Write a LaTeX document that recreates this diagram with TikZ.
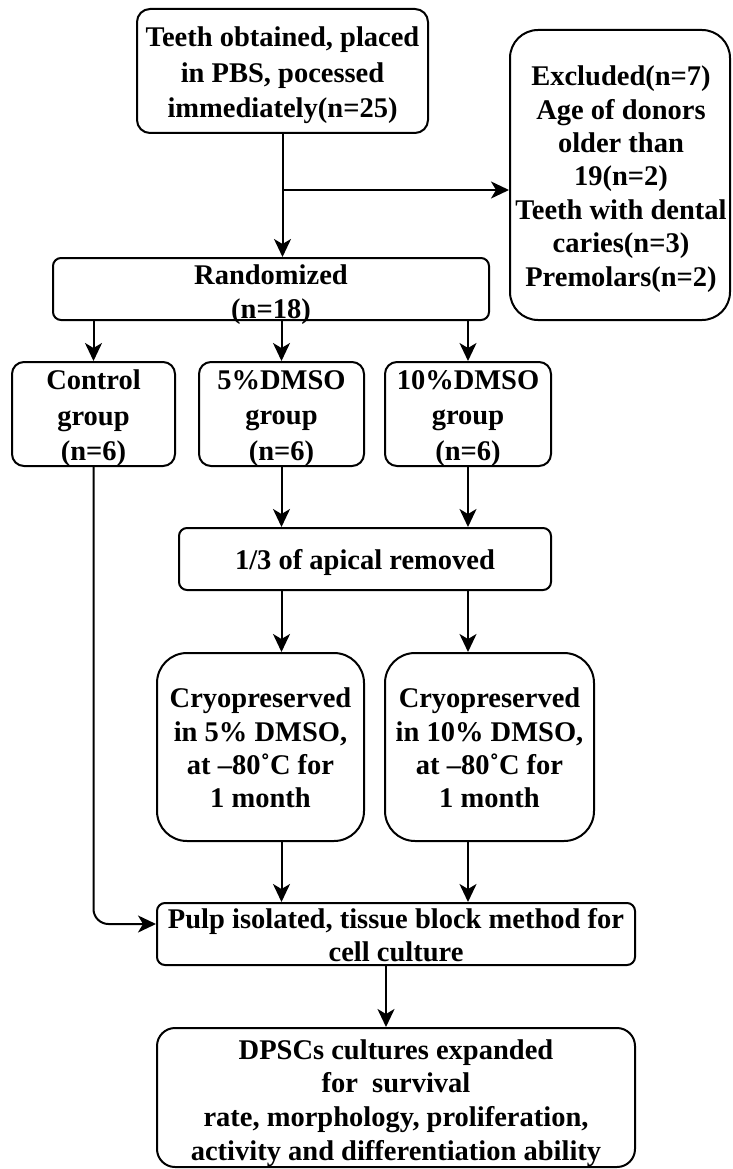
\documentclass[tikz,border=0pt]{standalone}
\usepackage{fontspec}
\setmainfont{Liberation Serif}
\usetikzlibrary{arrows.meta,calc}
\begin{document}
\begin{tikzpicture}[x=1pt,y=-1pt,
  box/.style={draw,line width=2pt,rounded corners=#1,inner sep=0pt},
  box/.default=12pt,
  txt/.style={align=center,inner sep=0pt,
    font=\bfseries\fontsize{28.5}{#1}\selectfont},
  txt/.default=34,
  arr/.style={line width=2pt,-{Stealth[length=18pt,width=17pt,inset=5pt]}}]
\useasboundingbox (0,0) rectangle (732,1169);

% boxes
\node[box=13pt,minimum width=291pt,minimum height=124pt] (top) at (282.5,71) {};
\node[box=28pt,minimum width=220pt,minimum height=290pt] (excl) at (620,175) {};
\node[box=8pt,minimum width=436pt,minimum height=62pt] (rand) at (271,289) {};
\node[box=12pt,minimum width=163pt,minimum height=104pt] (ctrl) at (93.5,414) {};
\node[box=12pt,minimum width=165pt,minimum height=104pt] (g5) at (281.5,414) {};
\node[box=12pt,minimum width=166pt,minimum height=104pt] (g10) at (468,414) {};
\node[box=8pt,minimum width=372pt,minimum height=62pt] (apical) at (365,559) {};
\node[box=30pt,minimum width=207pt,minimum height=188pt] (cryo5) at (260.5,747) {};
\node[box=30pt,minimum width=209pt,minimum height=188pt] (cryo10) at (489.5,747) {};
\node[box=8pt,minimum width=478pt,minimum height=62pt] (pulp) at (396,934) {};
\node[box=18pt,minimum width=478pt,minimum height=139pt] (dpsc) at (396,1097.5) {};

% texts
\node[txt=35.5] (topt) at (282.5,75.5)
  {Teeth obtained, placed\\in PBS, pocessed\\immediately(n=25)};
\node[txt=33.4] (exclt) at (621,179)
  {Excluded(n=7)\\Age of donors\\older than\\19(n=2)\\Teeth with dental\\caries(n=3)\\Premolars(n=2)};
\node[txt] (randt) at (271,295) {Randomized\\(n=18)};
\node[txt=35.5] (ctrlt) at (93.5,418.5) {Control\\group\\(n=6)};
\node[txt=35.5] (g5t) at (281.5,418.5) {5\%DMSO\\group\\(n=6)};
\node[txt=35.5] (g10t) at (468,418.5) {10\%DMSO\\group\\(n=6)};
\node[txt] (apicalt) at (365,562) {1/3 of apical removed};
\node[txt=33.4] (cryo5t) at (260.5,748)
  {Cryopreserved\\in 5\% DMSO,\\at --80˚C for\\1 month};
\node[txt=33.4] (cryo10t) at (489.5,748)
  {Cryopreserved\\in 10\% DMSO,\\at --80˚C for\\1 month};
\node[txt=33] (pulpt) at (396,935.5)
  {Pulp isolated, tissue block method for\\cell culture};
\node[txt=33.7] (dpsct) at (396,1103)
  {DPSCs cultures expanded\\for\ \ survival\\rate, morphology, proliferation,\\activity and differentiation ability};

% connectors
\coordinate (br) at (283,190);
\draw[arr] (top.south) -- (top.south |- rand.north);
\draw[arr] (top.south |- br) -- (br -| excl.west);
\draw[arr] (ctrl.north |- rand.south) -- (ctrl.north);
\draw[arr] (g5.north |- rand.south) -- (g5.north);
\draw[arr] (g10.north |- rand.south) -- (g10.north);
\draw[arr] (g5.south) -- (g5.south |- apical.north);
\draw[arr] (g10.south) -- (g10.south |- apical.north);
\draw[arr] (g5.south |- apical.south) -- (g5.south |- cryo5.north);
\draw[arr] (g10.south |- apical.south) -- (g10.south |- cryo10.north);
\draw[arr] (g5.south |- cryo5.south) -- (g5.south |- pulp.north);
\draw[arr] (g10.south |- cryo10.south) -- (g10.south |- pulp.north);
\coordinate (pin) at ($(pulp.west)+(0,-10)$);
\draw[arr,rounded corners=15pt] (ctrl.south) |- (pin);
\coordinate (pout) at ($(pulp.south)+(-10,0)$);
\draw[arr] (pout) -- (pout |- dpsc.north);
\end{tikzpicture}
\end{document}
